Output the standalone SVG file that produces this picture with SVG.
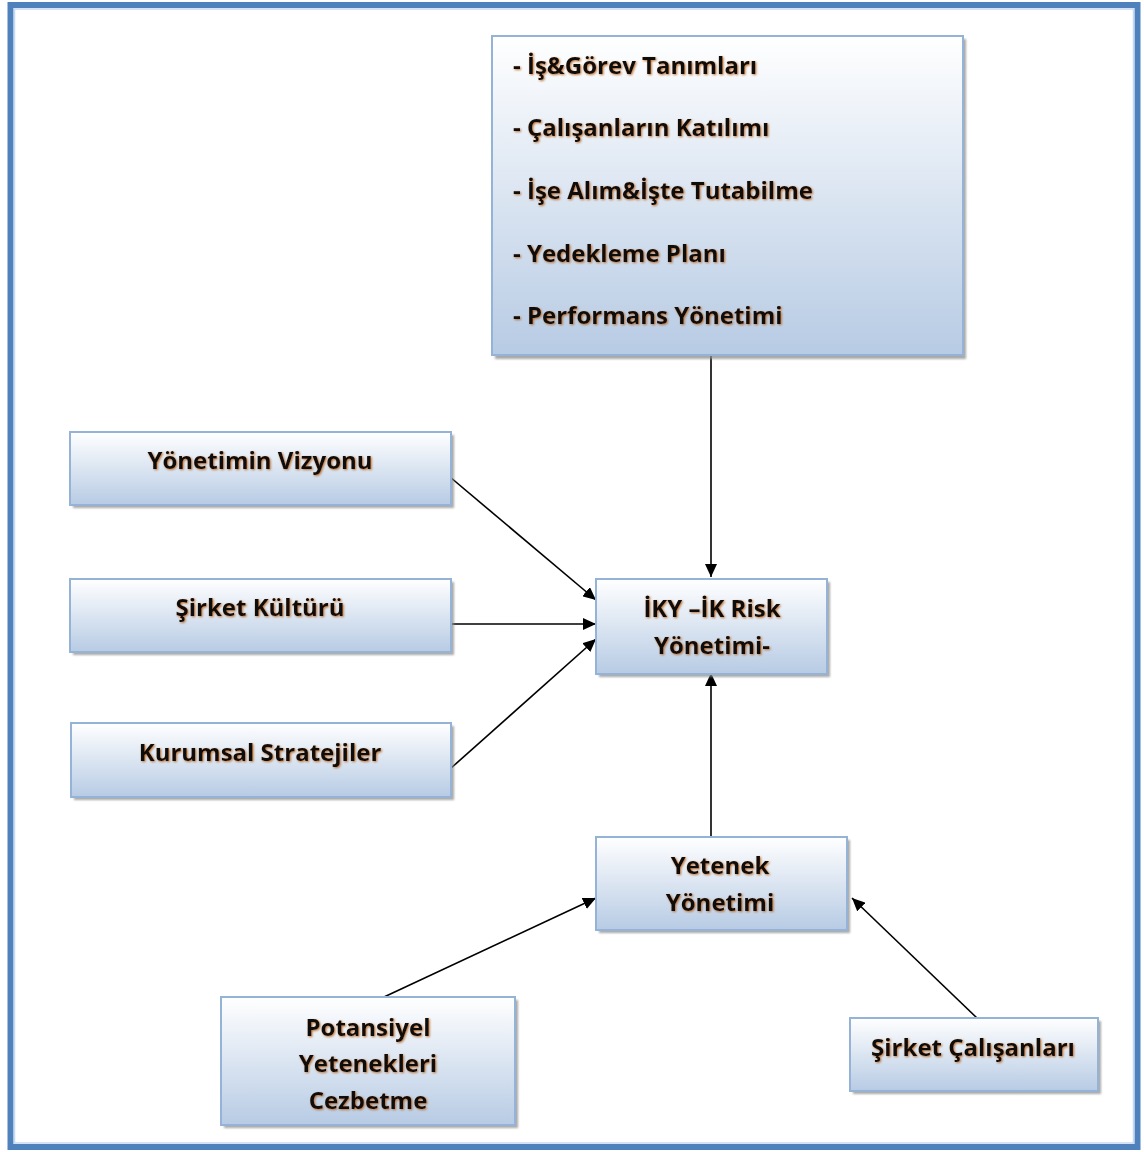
<svg xmlns="http://www.w3.org/2000/svg" width="1144" height="1152" viewBox="0 0 1144 1152">
<defs>
<linearGradient id="boxGrad" x1="0" y1="0" x2="0" y2="1">
<stop offset="0" stop-color="#ffffff"/>
<stop offset="1" stop-color="#b7cbe4"/>
</linearGradient>
<filter id="txtShadow" x="-10%" y="-30%" width="120%" height="160%">
<feDropShadow dx="1" dy="1" stdDeviation="0.9" flood-color="#b8641c" flood-opacity="0.9"/>
</filter>
<filter id="boxShadow" x="-5%" y="-5%" width="115%" height="115%">
<feGaussianBlur stdDeviation="1"/>
</filter>
<marker id="arrow" markerUnits="userSpaceOnUse" markerWidth="14" markerHeight="12" refX="13" refY="6" orient="auto">
<path d="M0,0 L13,6 L0,12 Z" fill="#000"/>
</marker>
</defs>
<style>
.shadow{fill:#8c8c8c;opacity:0.75}
.box{fill:url(#boxGrad);stroke:#95b3d7;stroke-width:2}
.lbl{font-family:"Open Sans","Liberation Sans",sans-serif;font-weight:700;font-size:24px;fill:#0a0a0a;filter:url(#txtShadow)}
.mid{text-anchor:middle}
.conn{stroke:#000;stroke-width:1.6;fill:none;marker-end:url(#arrow)}
</style>
<rect x="0" y="0" width="1144" height="1152" fill="#ffffff"/>
<rect x="10.5" y="5" width="1127" height="1142" fill="none" stroke="#4f81bd" stroke-width="6"/>
<rect x="14.5" y="9" width="1119" height="1134" fill="none" stroke="#c6d9f1" stroke-width="1.5"/>

<g id="connectors">
<line class="conn" x1="711" y1="356" x2="711" y2="577"/>
<line class="conn" x1="450" y1="477" x2="596" y2="600"/>
<line class="conn" x1="451" y1="624" x2="596" y2="624"/>
<line class="conn" x1="450" y1="769" x2="596" y2="639"/>
<line class="conn" x1="711" y1="836" x2="711" y2="673"/>
<line class="conn" x1="384" y1="997" x2="596" y2="898"/>
<line class="conn" x1="977" y1="1018" x2="852" y2="898"/>
</g>

<g id="node-top">
<rect class="shadow" x="495" y="39" width="471" height="320" filter="url(#boxShadow)"/>
<rect class="box" x="492" y="36" width="471" height="319"/>
<text class="lbl" x="513" y="74">- İş&amp;Görev Tanımları</text>
<text class="lbl" x="513" y="136">- Çalışanların Katılımı</text>
<text class="lbl" x="513" y="199">- İşe Alım&amp;İşte Tutabilme</text>
<text class="lbl" x="513" y="262">- Yedekleme Planı</text>
<text class="lbl" x="513" y="324">- Performans Yönetimi</text>
</g>

<g id="node-vizyon">
<rect class="shadow" x="73" y="435" width="381" height="73" filter="url(#boxShadow)"/>
<rect class="box" x="70" y="432" width="381" height="73"/>
<text class="lbl mid" x="260" y="469">Yönetimin Vizyonu</text>
</g>

<g id="node-kultur">
<rect class="shadow" x="73" y="582" width="381" height="73" filter="url(#boxShadow)"/>
<rect class="box" x="70" y="579" width="381" height="73"/>
<text class="lbl mid" x="260" y="616">Şirket Kültürü</text>
</g>

<g id="node-strateji">
<rect class="shadow" x="74" y="726" width="380" height="74" filter="url(#boxShadow)"/>
<rect class="box" x="71" y="723" width="380" height="74"/>
<text class="lbl mid" x="260" y="761">Kurumsal Stratejiler</text>
</g>

<g id="node-iky">
<rect class="shadow" x="599" y="582" width="231" height="95" filter="url(#boxShadow)"/>
<rect class="box" x="596" y="579" width="231" height="95"/>
<text class="lbl mid" x="712" y="617">İKY –İK Risk</text>
<text class="lbl mid" x="712" y="654">Yönetimi-</text>
</g>

<g id="node-yetenek">
<rect class="shadow" x="599" y="840" width="251" height="93" filter="url(#boxShadow)"/>
<rect class="box" x="596" y="837" width="251" height="93"/>
<text class="lbl mid" x="720" y="874">Yetenek</text>
<text class="lbl mid" x="720" y="911">Yönetimi</text>
</g>

<g id="node-potansiyel">
<rect class="shadow" x="224" y="1000" width="294" height="128" filter="url(#boxShadow)"/>
<rect class="box" x="221" y="997" width="294" height="128"/>
<text class="lbl mid" x="368" y="1036">Potansiyel</text>
<text class="lbl mid" x="368" y="1072">Yetenekleri</text>
<text class="lbl mid" x="368" y="1109">Cezbetme</text>
</g>

<g id="node-calisanlar">
<rect class="shadow" x="853" y="1021" width="248" height="73" filter="url(#boxShadow)"/>
<rect class="box" x="850" y="1018" width="248" height="73"/>
<text class="lbl mid" x="973" y="1056">Şirket Çalışanları</text>
</g>
</svg>
